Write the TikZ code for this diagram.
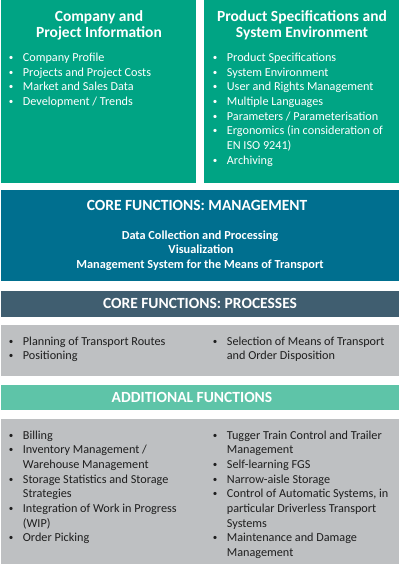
\documentclass[tikz,border=0pt]{standalone}
\usepackage{fontspec}
\setmainfont{Carlito}
\definecolor{cgreen}{HTML}{00A484}
\definecolor{cblue}{HTML}{006F8F}
\definecolor{cslate}{HTML}{405E70}
\definecolor{cgray}{HTML}{BEC0C2}
\definecolor{cmint}{HTML}{5EC4A8}
\definecolor{ctext}{HTML}{1E1E1E}
\newcommand{\bul}{\llap{\raisebox{1pt}{\fontsize{9}{9}\selectfont\textbullet}\hspace{9.5pt}}}
\begin{document}
\begin{tikzpicture}[x=1pt,y=-1pt,
  title/.style={font=\fontsize{15.5}{15.7}\selectfont\bfseries, text=white, anchor=base, inner sep=0pt},
  mgmt/.style={font=\fontsize{12.3}{14.5}\selectfont\bfseries, text=white, anchor=base, inner sep=0pt},
  itemw/.style={font=\fontsize{12.2}{14.6}\selectfont, text=white, anchor=base west, inner sep=0pt},
  itemk/.style={font=\fontsize{12.2}{14.6}\selectfont, text=ctext, anchor=base west, inner sep=0pt}]
\useasboundingbox (0,0) rectangle (400,568);
% boxes
\fill[cgreen] (1,0) rectangle (196,183);
\fill[cgreen] (204,0) rectangle (399,183);
\fill[cblue] (1,190) rectangle (399,281);
\fill[cslate] (1,291) rectangle (399,317);
\fill[cgray] (1,325) rectangle (399,376);
\fill[cmint] (1,385) rectangle (399,410);
\fill[cgray] (1,419) rectangle (399,564);
% titles
\node[title] (t1a) at (99,21.5) {Company and};
\node[title] (t1b) at (99,37.2) {Project Information};
\node[title] (t2a) at (302,21.5) {Product Specifications and};
\node[title] (t2b) at (302,37.2) {System Environment};
\node[title] (t3) at (197,210.7) {CORE FUNCTIONS: MANAGEMENT};
\node[title] (t4) at (200,308.3) {CORE FUNCTIONS: PROCESSES};
\node[title] (t5) at (192,402.5) {ADDITIONAL FUNCTIONS};
% management body
\node[mgmt] (m1) at (200,239) {Data Collection and Processing};
\node[mgmt] (m2) at (201,253.5) {Visualization};
\node[mgmt] (m3) at (200,268) {Management System for the Means of Transport};
% left green list
\foreach \t [count=\i from 0] in {{\bul Company Profile},{\bul Projects and Project Costs},{\bul Market and Sales Data},{\bul Development / Trends}}
  \node[itemw] (a\i) at (22.7,61.6+14.6*\i) {\t};
% right green list
\foreach \t [count=\i from 0] in {{\bul Product Specifications},{\bul System Environment},{\bul User and Rights Management},{\bul Multiple Languages},{\bul Parameters / Parameterisation},{\bul Ergonomics (in consideration of},{EN ISO 9241)},{\bul Archiving}}
  \node[itemw] (b\i) at (226.7,61.6+14.66*\i) {\t};
% processes
\node[itemk] (p0) at (22.7,345) {\bul Planning of Transport Routes};
\node[itemk] (p1) at (22.7,359.3) {\bul Positioning};
\node[itemk] (p2) at (226.7,345) {\bul Selection of Means of Transport};
\node[itemk] (p3) at (226.7,359.3) {and Order Disposition};
% additional left
\foreach \t [count=\i from 0] in {{\bul Billing},{\bul Inventory Management /},{Warehouse Management},{\bul Storage Statistics and Storage},{Strategies},{\bul Integration of Work in Progress},{(WIP)},{\bul Order Picking}}
  \node[itemk] (c\i) at (22.7,439.3+14.62*\i) {\t};
% additional right
\foreach \t [count=\i from 0] in {{\bul Tugger Train Control and Trailer},{Management},{\bul Self-learning FGS},{\bul Narrow-aisle Storage},{\bul Control of Automatic Systems, in},{particular Driverless Transport},{Systems},{\bul Maintenance and Damage},{Management}}
  \node[itemk] (d\i) at (226.7,439.3+14.66*\i) {\t};
\end{tikzpicture}
\end{document}
